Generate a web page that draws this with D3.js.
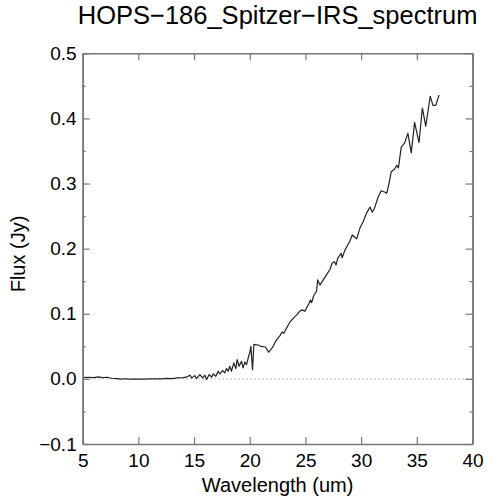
<!DOCTYPE HTML>
<html>
<head>
    <meta charset="UTF-8">
    <title>HOPS-186 Spitzer IRS spectrum</title>
    <style>
        body { margin: 0; background: #fff; }
        svg text { font-family: "Liberation Sans", Arial, sans-serif; fill: #000; }
    </style>
    <script src="https://d3js.org/d3.v7.min.js"></script>
</head>
<body>
<svg id="chart" width="493" height="500"></svg>
<script>
    // wavelength (um) and flux (Jy)
    var wavelength = [
        5.0, 5.5, 6.0, 6.4, 6.8, 7.2, 7.6, 8.0, 8.4, 8.8, 9.2, 9.6, 10.0, 10.5, 11.0,
        11.5, 12.0, 12.5, 13.0, 13.5, 14.0, 14.3, 14.62, 14.78, 15.07, 15.22, 15.52,
        15.76, 15.97, 16.12, 16.36, 16.57, 16.72, 16.95, 17.16, 17.31, 17.55, 17.76,
        17.91, 18.06, 18.21, 18.36, 18.57, 18.75, 18.87, 19.04, 19.26, 19.4, 19.56,
        19.71, 19.86, 20.0, 20.1, 20.25, 20.37, 20.75, 21.0, 21.4, 21.7, 21.85, 22.1,
        22.4, 22.7, 22.9, 23.05, 23.3, 23.6, 23.9, 24.2, 24.5, 24.7, 24.95, 25.1,
        25.3, 25.45, 25.55, 25.75, 26.0, 26.1, 26.3, 26.6, 26.9, 27.2, 27.4, 27.6,
        27.75, 27.9, 28.2, 28.3, 28.55, 28.8, 29.0, 29.2, 29.4, 29.6, 29.9, 30.2,
        30.5, 30.8, 31.0, 31.2, 31.5, 31.8, 32.1, 32.3, 32.5, 32.7, 33.0, 33.2,
        33.35, 33.6, 33.9, 34.2, 34.5, 34.8, 35.2, 35.5, 35.8, 36.2, 36.45, 36.7, 37.0
    ];
    var flux = [
        0.002, 0.0025, 0.002, 0.003, 0.002, 0.0025, 0.001, 0.0005, -0.0003, 0.0002,
        -0.0005, -0.0002, -0.0004, -0.0003, -0.0001, 0.0002, 0.0, 0.0008, 0.0005,
        0.0015, 0.002, 0.0026, 0.0057, 0.0015, 0.005, 0.0005, 0.0066, 0.0015, 0.0057,
        -0.001, 0.0066, 0.0026, 0.0077, 0.004, 0.0118, 0.0077, 0.0128, 0.0092, 0.0158,
        0.0118, 0.0194, 0.0118, 0.0245, 0.0158, 0.0296, 0.0194, 0.027, 0.0168, 0.026,
        0.022, 0.032, 0.040, 0.050, 0.014, 0.053, 0.052, 0.050, 0.049, 0.041, 0.044,
        0.050, 0.060, 0.066, 0.072, 0.070, 0.078, 0.087, 0.093, 0.098, 0.104, 0.106,
        0.104, 0.109, 0.115, 0.121, 0.117, 0.128, 0.135, 0.152, 0.144, 0.152, 0.160,
        0.168, 0.178, 0.180, 0.175, 0.185, 0.193, 0.186, 0.198, 0.206, 0.212, 0.221,
        0.218, 0.215, 0.232, 0.242, 0.255, 0.264, 0.256, 0.262, 0.278, 0.289, 0.287,
        0.285, 0.300, 0.318, 0.322, 0.328, 0.324, 0.356, 0.362, 0.377, 0.347, 0.394,
        0.363, 0.416, 0.388, 0.434, 0.420, 0.420, 0.436
    ];
    var xTicks = [5, 10, 15, 20, 25, 30, 35, 40];
    var yTicks = [-0.1, 0.0, 0.1, 0.2, 0.3, 0.4, 0.5];
    var yMinorTicks = [-0.05, 0.05, 0.15, 0.25, 0.35, 0.45];

    // plot box (avoid "top" - it's a read-only global)
    var plotL = 82.7, plotR = 472.5, plotT = 53.3, plotB = 444;
    var frameColor = "#777";

    var svg = d3.select("#chart");
    var x = d3.scaleLinear().domain([5, 40]).range([plotL, plotR]);
    var y = d3.scaleLinear().domain([-0.1, 0.5]).range([plotB, plotT]);

    // 0 Jy reference line (dotted)
    svg.append("line")
        .attr("x1", x(5)).attr("x2", x(40))
        .attr("y1", y(0)).attr("y2", y(0))
        .attr("stroke", "#888")
        .attr("stroke-width", 1)
        .attr("stroke-dasharray", "1,3");

    // spectrum
    var line = d3.line()
        .x(function (d, i) { return x(wavelength[i]); })
        .y(function (d) { return y(d); });
    svg.append("path")
        .datum(flux)
        .attr("d", line)
        .attr("fill", "none")
        .attr("stroke", "#222")
        .attr("stroke-width", 1.2)
        .attr("stroke-linejoin", "round");

    // axes with inward ticks on all four sides
    function fmt(d) { return d3.format(".1f")(d).replace("-", "\u2212"); }

    var bottomAxis = d3.axisBottom(x).tickValues(xTicks).tickSizeInner(-7).tickSizeOuter(0)
        .tickPadding(10).tickFormat(d3.format("d"));
    var topAxis = d3.axisTop(x).tickValues(xTicks).tickSizeInner(-7).tickSizeOuter(0)
        .tickFormat("");
    var leftAxis = d3.axisLeft(y).tickValues(yTicks).tickSizeInner(-7).tickSizeOuter(0)
        .tickPadding(6).tickFormat(fmt);
    var rightAxis = d3.axisRight(y).tickValues(yTicks).tickSizeInner(-7).tickSizeOuter(0)
        .tickFormat("");
    var leftMinor = d3.axisLeft(y).tickValues(yMinorTicks).tickSizeInner(-3).tickSizeOuter(0)
        .tickFormat("");
    var rightMinor = d3.axisRight(y).tickValues(yMinorTicks).tickSizeInner(-3).tickSizeOuter(0)
        .tickFormat("");

    var axes = [
        [bottomAxis, "translate(0," + plotB + ")"],
        [topAxis, "translate(0," + plotT + ")"],
        [leftAxis, "translate(" + plotL + ",0)"],
        [rightAxis, "translate(" + plotR + ",0)"],
        [leftMinor, "translate(" + plotL + ",0)"],
        [rightMinor, "translate(" + plotR + ",0)"]
    ];
    axes.forEach(function (a) {
        var g = svg.append("g").attr("transform", a[1]).call(a[0]);
        g.selectAll("path").attr("stroke", frameColor).attr("stroke-width", 1.5);
        g.selectAll("line").attr("stroke", frameColor).attr("stroke-width", 1.2);
        g.selectAll("text")
            .attr("font-family", "'Liberation Sans', Arial, sans-serif")
            .attr("font-size", 19)
            .attr("fill", "#000");
    });

    // titles
    svg.append("text")
        .attr("x", (plotL + plotR) / 2).attr("y", 23.5)
        .attr("text-anchor", "middle")
        .attr("font-size", 25.5)
        .text("HOPS\u2212186_Spitzer\u2212IRS_spectrum");

    svg.append("text")
        .attr("x", (plotL + plotR) / 2).attr("y", 492)
        .attr("text-anchor", "middle")
        .attr("font-size", 20)
        .text("Wavelength (um)");

    svg.append("text")
        .attr("transform", "translate(25,254) rotate(-90)")
        .attr("text-anchor", "middle")
        .attr("font-size", 20)
        .text("Flux (Jy)");
</script>
</body>
</html>
